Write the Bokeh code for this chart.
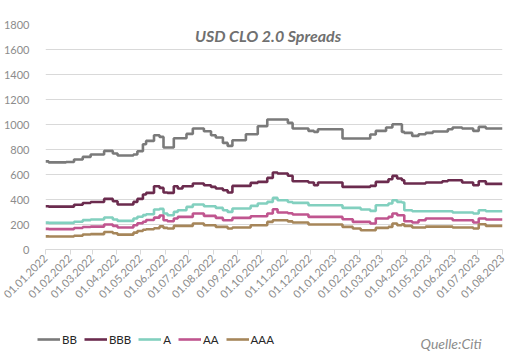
from datetime import datetime
import pandas as pd
from bokeh.plotting import figure
from bokeh.layouts import column
from bokeh.models import (Range1d, FixedTicker, DatetimeTickFormatter, Legend,
                          LegendItem, Label)
from bokeh.embed import file_html
from bokeh.resources import INLINE
from math import pi

# ---- data (step change dates, values in bp) ----
dates = ["2022-01-01", "2022-01-05", "2022-01-27", "2022-02-06", "2022-02-17", "2022-02-27",
         "2022-03-16", "2022-03-27", "2022-04-02", "2022-04-22", "2022-04-27", "2022-05-04",
         "2022-05-08", "2022-05-18", "2022-05-25", "2022-05-30", "2022-06-04", "2022-06-12",
         "2022-06-17", "2022-06-23", "2022-06-28", "2022-07-06", "2022-07-20", "2022-07-29",
         "2022-08-04", "2022-08-13", "2022-08-19", "2022-08-25", "2022-09-11", "2022-09-17",
         "2022-09-26", "2022-10-08", "2022-10-15", "2022-10-21", "2022-11-03", "2022-11-09",
         "2022-11-29", "2022-12-06", "2022-12-11", "2023-01-11", "2023-01-24", "2023-02-03",
         "2023-02-15", "2023-02-22", "2023-03-07", "2023-03-10", "2023-03-15", "2023-03-21",
         "2023-03-27", "2023-03-30", "2023-04-09", "2023-04-17", "2023-04-26", "2023-05-05",
         "2023-05-17", "2023-05-24", "2023-05-30", "2023-06-11", "2023-06-25", "2023-07-02",
         "2023-07-11", "2023-08-01"]

bb = [705, 697, 700, 720, 741, 760, 789, 768, 752, 760, 786, 842, 869, 914, 901, 816,
      816, 890, 890, 890, 925, 968, 946, 914, 896, 853, 829, 874, 922, 922, 986, 1040,
      1040, 1040, 1013, 968, 949, 941, 962, 888, 888, 888, 920, 949, 976, 976, 1002, 1002,
      941, 933, 909, 922, 933, 944, 944, 962, 976, 968, 949, 981, 968, 968]
bbb = [346, 343, 343, 358, 372, 380, 405, 386, 360, 381, 405, 440, 453, 506, 493, 456,
       453, 506, 488, 506, 506, 528, 514, 501, 488, 474, 456, 509, 509, 533, 541, 573,
       616, 608, 590, 546, 536, 514, 536, 501, 501, 501, 509, 541, 541, 562, 589, 568,
       554, 528, 528, 528, 536, 536, 546, 554, 554, 536, 514, 546, 525, 525]
a = [215, 213, 213, 222, 235, 240, 256, 240, 229, 248, 262, 275, 282, 320, 325, 288,
     274, 301, 314, 314, 341, 360, 346, 346, 333, 314, 301, 328, 328, 349, 368, 381,
     413, 394, 380, 373, 354, 354, 354, 333, 333, 320, 309, 354, 354, 368, 394, 381,
     376, 314, 306, 306, 306, 306, 306, 306, 296, 296, 288, 314, 306, 306]
aa = [165, 163, 163, 172, 180, 183, 200, 189, 176, 194, 210, 222, 236, 255, 272, 234,
      226, 248, 261, 261, 261, 288, 269, 269, 253, 234, 234, 253, 253, 266, 266, 288,
      322, 296, 290, 280, 261, 261, 261, 242, 221, 221, 208, 248, 248, 261, 288, 274,
      274, 226, 216, 234, 248, 248, 248, 248, 234, 234, 216, 248, 240, 240]
aaa = [105, 104, 104, 110, 120, 123, 140, 130, 119, 135, 148, 158, 162, 170, 185, 173,
       168, 189, 189, 189, 189, 208, 194, 194, 181, 181, 168, 176, 176, 194, 194, 221,
       234, 234, 225, 216, 200, 200, 200, 181, 168, 154, 154, 173, 173, 181, 208, 194,
       202, 189, 176, 176, 183, 183, 183, 183, 176, 176, 168, 202, 189, 189]

series_names = ["BB", "BBB", "A", "AA", "AAA"]
series_values = [bb, bbb, a, aa, aaa]
series_colors = ["#7a7a7a", "#6b2b4e", "#82d0bf", "#c0558f", "#a6865a"]

tick_dates = pd.date_range("2022-01-01", "2023-08-01", freq="MS")
y_ticks = [0, 200, 400, 600, 800, 1000, 1200, 1400, 1600, 1800]

title_text = "USD CLO 2.0 Spreads"
source_text = "Quelle:Citi"

FONT = "Lato"
x_start, x_end = datetime(2022, 1, 1), datetime(2023, 8, 1)

# ---- main figure ----
x = pd.to_datetime(dates)
p = figure(width=519, height=322, x_axis_type="datetime",
           x_range=Range1d(x_start, x_end), y_range=Range1d(0, 1800),
           output_backend="svg", toolbar_location=None,
           min_border_left=44, min_border_right=17, min_border_top=24,
           min_border_bottom=73)
p.frame_align = False
p.outline_line_color = None
p.background_fill_color = "white"
p.border_fill_color = "white"

for name, vals, col in zip(series_names, series_values, series_colors):
    p.step(x, vals, mode="after", line_color=col, line_width=2.6)

# x axis
p.xaxis.ticker = FixedTicker(ticks=[t.value / 1e6 for t in tick_dates])
p.xaxis.formatter = DatetimeTickFormatter(days="%d.%m.%Y", months="%d.%m.%Y",
                                          years="%d.%m.%Y")
p.xaxis.major_label_orientation = pi / 4
p.xaxis.axis_line_color = "#d9d9d9"
p.xaxis.major_tick_line_color = "#d9d9d9"
p.xaxis.major_tick_out = 5
p.xaxis.major_tick_in = 0
p.xaxis.minor_tick_line_color = None
p.xaxis.major_label_text_color = "#8c8c8c"
p.xaxis.major_label_text_font = FONT
p.xaxis.major_label_text_font_size = "11px"
p.xaxis.major_label_standoff = 2
# y axis
p.yaxis.ticker = FixedTicker(ticks=y_ticks)
p.yaxis.axis_line_color = None
p.yaxis.major_tick_line_color = None
p.yaxis.minor_tick_line_color = None
p.yaxis.major_label_text_color = "#8c8c8c"
p.yaxis.major_label_text_font = FONT
p.yaxis.major_label_text_font_size = "11px"
p.yaxis.major_label_standoff = 10
# grid
p.xgrid.grid_line_color = None
p.ygrid.grid_line_color = "#d9d9d9"
p.ygrid.grid_line_width = 1

# title inside plot
p.add_layout(Label(x=datetime(2022, 10, 9), y=1712, text=title_text,
                   text_align="center", text_baseline="middle",
                   text_font=FONT, text_font_style="bold italic",
                   text_font_size="16px", text_color="#707070"))

# ---- legend strip (series drawn again, but outside its visible y range) ----
p2 = figure(width=519, height=36, x_axis_type="datetime",
            x_range=Range1d(x_start, x_end), y_range=Range1d(0, 36),
            output_backend="svg", toolbar_location=None,
            x_axis_location=None, y_axis_location=None,
            min_border_left=0, min_border_right=0,
            min_border_top=0, min_border_bottom=0)
p2.frame_align = False
p2.outline_line_color = None
p2.xgrid.grid_line_color = None
p2.ygrid.grid_line_color = None
p2.background_fill_color = "white"
p2.border_fill_color = "white"

items = []
for name, vals, col in zip(series_names, series_values, series_colors):
    r = p2.step(x, vals, mode="after", line_color=col, line_width=2.6)
    items.append(LegendItem(label=name, renderers=[r]))

legend = Legend(items=items, orientation="horizontal", location=(37, 12),
                glyph_width=23, glyph_height=14, label_height=14, label_width=1,
                label_standoff=2, spacing=7, padding=0, margin=0,
                label_text_font=FONT, label_text_font_size="11.5px",
                label_text_color="#262626", border_line_color=None,
                background_fill_alpha=0)
p2.add_layout(legend, "center")

p2.add_layout(Label(x=481, y=15, x_units="screen", y_units="screen",
                    text=source_text, text_align="right",
                    text_baseline="middle", text_font=FONT,
                    text_font_style="italic", text_font_size="14px",
                    text_color="#8c8c8c"))

open("out.html", "w").write(file_html(column(p, p2, spacing=0), INLINE))
